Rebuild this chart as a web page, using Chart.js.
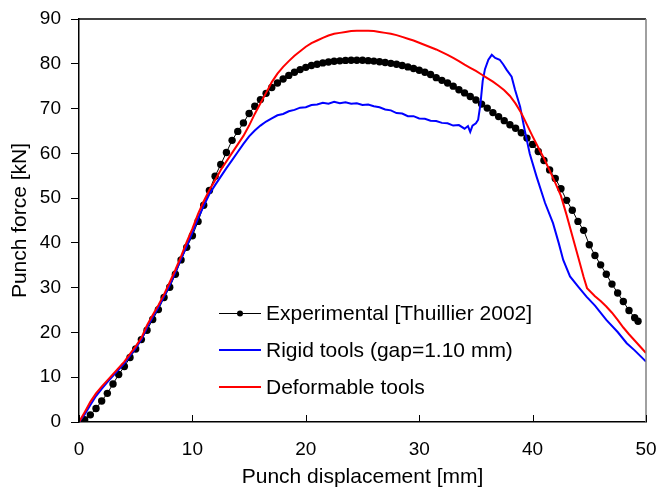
<!DOCTYPE html>
<html>
<head>
<meta charset="utf-8">
<title>Punch force</title>
<script src="https://cdn.jsdelivr.net/npm/chart.js@4.4.1/dist/chart.umd.min.js"></script>
<style>
  body { margin: 0; background: #fff; }
  #wrap { width: 659px; height: 490px; }
</style>
</head>
<body>
<div id="wrap"><canvas id="chart" width="659" height="490"></canvas></div>
<script>
// punch displacement [mm] / punch force [kN]
var expX = [0,0.5,1,1.5,2,2.5,3,3.5,4,4.5,5,5.5,6,6.5,7,7.5,8,8.5,9,9.5,
  10,10.5,11,11.5,12,12.5,13,13.5,14,14.5,15,15.5,16,16.5,17,17.5,18,18.5,19,19.5,
  20,20.5,21,21.5,22,22.5,23,23.5,24,24.5,25,25.5,26,26.5,27,27.5,28,28.5,29,29.5,
  30,30.5,31,31.5,32,32.5,33,33.5,34,34.5,35,35.5,36,36.5,37,37.5,38,38.5,39,39.5,
  40,40.5,41,41.5,42,42.5,43,43.5,44,44.5,45,45.5,46,46.5,47,47.5,48,48.5,49,49.3];
var expY = [0,0.5,1.6,3.0,4.7,6.4,8.5,10.6,12.4,14.4,16.3,18.4,20.5,22.9,25.1,27.8,30.1,33.0,36.2,39.0,
  41.6,44.8,48.4,51.7,54.9,57.5,60.2,62.9,64.9,66.8,68.9,70.5,72.0,73.4,74.7,75.7,76.6,77.4,78.1,78.7,
  79.2,79.6,79.9,80.2,80.4,80.55,80.65,80.75,80.8,80.8,80.8,80.7,80.6,80.45,80.3,80.1,79.9,79.6,79.3,78.95,
  78.55,78.1,77.6,76.9,76.3,75.7,75.0,74.2,73.5,72.7,71.9,71.0,70.1,69.1,68.2,67.3,66.4,65.6,64.6,63.4,
  62.0,60.4,58.4,56.3,54.4,52.1,49.5,47.3,44.8,42.8,39.6,37.2,35.1,33.0,30.8,28.8,26.9,24.9,23.3,22.5];

var rigidX = [0,0.5,1,1.5,2,2.5,3,3.5,4,4.5,5,5.5,6,6.5,7,7.5,8,8.5,9,9.5,
  10,10.5,11,11.5,12,12.5,13,13.5,14,14.5,15,15.5,16,16.5,17,17.5,18,18.5,19,19.5,
  20,20.5,21,21.5,22,22.5,23,23.5,24,24.5,25,25.5,26,26.5,27,27.5,28,28.5,29,29.5,
  30,30.5,31,31.5,32,32.5,33,33.5,34,34.3,34.5,34.7,35,35.2,35.4,35.6,35.8,36.1,36.4,36.7,
  37.1,37.4,37.7,38.15,38.45,38.9,39.3,39.75,40.35,41.1,41.8,42.3,42.7,43.3,44,44.75,45.5,46.5,47.5,48.3,49,50];
var rigidY = [0,1.7,3.8,5.8,7.4,8.9,10.3,11.7,13.1,14.8,16.5,18.4,21.1,23.4,25.6,28.0,30.6,33.4,36.4,39.3,
  42.3,45.5,48.3,50.9,52.9,54.8,56.7,58.5,60.3,62.1,63.8,65.1,66.2,67.1,67.8,68.5,68.8,69.4,69.7,70.2,
  70.3,70.8,70.9,71.3,71.1,71.5,71.2,71.4,71.1,71.2,70.8,70.9,70.5,70.3,69.8,69.6,69.0,68.9,68.3,68.3,
  67.8,67.7,67.3,67.2,66.8,66.7,66.2,66.3,65.5,66.1,64.8,66.2,66.7,67.5,71.0,76.2,78.8,80.9,82.0,81.3,
  80.9,79.9,78.7,77.1,74.2,70.4,65.2,59.9,54.8,48.9,44.4,40.0,36.2,32.5,30.3,28.0,26.0,22.8,20.1,17.6,16.0,13.5];

var deformX = [0,0.5,1,1.5,2,2.5,3,3.5,4,4.5,5,5.5,6,6.5,7,7.5,8,8.5,9,9.5,
  10,10.5,11,11.5,12,12.5,13,13.5,14,14.5,15,15.5,16,16.5,17,17.5,18,18.5,19,19.5,
  20,20.5,21,21.5,22,22.5,23,23.5,24,24.5,25,25.5,26,26.5,27,27.5,28,28.5,29,29.5,
  30,30.5,31,31.5,32,32.5,33,33.5,34,34.5,35,35.5,36,36.5,37,37.5,38,38.5,39,39.5,
  40,40.5,41,41.5,42,42.5,43,43.5,44,44.5,44.8,45.5,46,46.5,47,47.5,48,48.5,49,49.5,50];
var deformY = [0,2.2,4.5,6.4,7.9,9.3,10.7,12.1,13.5,15.2,16.9,18.8,21.6,23.9,26.1,28.5,31.2,34.0,37.0,40.2,
  43.2,46.5,49.3,51.8,54.0,56.3,58.2,60.1,62.0,63.9,66.2,68.8,71.2,73.5,75.9,77.8,79.3,80.6,81.8,82.8,
  83.8,84.6,85.2,85.8,86.3,86.7,86.9,87.1,87.3,87.4,87.4,87.4,87.3,87.1,86.9,86.7,86.4,86.0,85.6,85.2,
  84.7,84.2,83.7,83.2,82.6,82.0,81.3,80.6,79.8,79.1,78.4,77.6,76.8,76.0,75.1,74.1,72.8,71.1,69.0,66.4,
  63.8,61.3,58.9,56.2,53.4,50.5,46.2,41.6,37.0,32.4,29.9,28.1,27.0,25.8,24.4,22.8,21.1,19.6,18.2,16.8,15.4];

var seriesNames = ["Experimental [Thuillier 2002]", "Rigid tools (gap=1.10 mm)", "Deformable tools"];
var xTitle = "Punch displacement [mm]";
var yTitle = "Punch force [kN]";

function pairs(xs, ys) {
  return xs.map(function(v, i) { return {x: v, y: ys[i]}; });
}

var FONT = "'Liberation Sans', Arial, sans-serif";

// frame (top/right), inward x ticks and the legend inside the plot
var framePlugin = {
  id: 'frame',
  afterDraw: function(chart) {
    var ctx = chart.ctx, a = chart.chartArea, xs = chart.scales.x;
    ctx.save();
    ctx.lineWidth = 1.5;
    ctx.strokeStyle = '#000';
    ctx.beginPath(); ctx.moveTo(a.left, a.top); ctx.lineTo(a.right, a.top); ctx.stroke();
    ctx.strokeStyle = '#808080';
    ctx.beginPath(); ctx.moveTo(a.right, a.top); ctx.lineTo(a.right, a.bottom); ctx.stroke();

    ctx.strokeStyle = '#000';
    ctx.lineWidth = 1;
    xs.ticks.forEach(function(t) {
      var px = Math.round(xs.getPixelForValue(t.value)) + 0.5;
      ctx.beginPath(); ctx.moveTo(px, a.bottom); ctx.lineTo(px, a.bottom - 7); ctx.stroke();
    });

    // legend
    var cols = ['#000000', '#0000ff', '#ff0000'];
    var widths = [1, 2, 2];
    var x0 = Math.round(a.left) + 140, x1 = Math.round(a.left) + 182;
    ctx.font = '21px ' + FONT;
    ctx.textBaseline = 'middle';
    for (var i = 0; i < 3; i++) {
      var y = Math.round(a.top) + 294 + i * 37;
      ctx.strokeStyle = cols[i];
      ctx.lineWidth = widths[i];
      var ly = widths[i] === 1 ? y + 0.5 : y;
      ctx.beginPath(); ctx.moveTo(x0, ly); ctx.lineTo(x1, ly); ctx.stroke();
      if (i === 0) {
        ctx.fillStyle = '#000';
        ctx.beginPath(); ctx.arc((x0 + x1) / 2, ly, 3, 0, Math.PI * 2); ctx.fill();
      }
      ctx.fillStyle = '#000';
      ctx.fillText(seriesNames[i], x1 + 5, y + 1);
    }
    ctx.restore();
  }
};

var canvas = document.getElementById('chart').getContext('2d');
var chart = new Chart(canvas, {
  type: 'line',
  data: {
    datasets: [{
      label: seriesNames[0],
      data: pairs(expX, expY),
      borderColor: '#000',
      backgroundColor: '#000',
      borderWidth: 1,
      pointRadius: 3.7,
      pointBorderWidth: 0,
      pointBackgroundColor: '#000',
      tension: 0,
      order: 2
    }, {
      label: seriesNames[1],
      data: pairs(rigidX, rigidY),
      borderColor: '#0000ff',
      borderWidth: 2,
      pointRadius: 0,
      tension: 0,
      order: 1
    }, {
      label: seriesNames[2],
      data: pairs(deformX, deformY),
      borderColor: '#ff0000',
      borderWidth: 2,
      pointRadius: 0,
      tension: 0,
      order: 0
    }]
  },
  options: {
    responsive: false,
    animation: false,
    layout: { padding: { top: 19, right: 13, left: 0, bottom: 0 } },
    plugins: {
      legend: { display: false },
      tooltip: { enabled: false }
    },
    scales: {
      x: {
        type: 'linear',
        min: 0, max: 50,
        ticks: { stepSize: 10, color: '#000', padding: 16, font: { family: FONT, size: 19 } },
        grid: { drawOnChartArea: false, drawTicks: false },
        border: { display: true, color: '#000', width: 1.5 },
        title: { display: true, text: xTitle, color: '#000', padding: { top: 0, bottom: 0 }, font: { family: FONT, size: 21 } },
        afterFit: function(s) { s.height = 68; s.paddingLeft = 0; s.paddingRight = 0; }
      },
      y: {
        type: 'linear',
        min: 0, max: 90,
        ticks: { stepSize: 10, color: '#000', padding: 10, font: { family: FONT, size: 19 } },
        grid: { drawOnChartArea: false, drawTicks: true, tickLength: 8, color: '#000', lineWidth: 1 },
        border: { display: true, color: '#000', width: 1.5 },
        title: { display: true, text: yTitle, color: '#000', padding: { top: 8, bottom: 0 }, font: { family: FONT, size: 21 } },
        afterFit: function(s) { s.width = 79; s.paddingTop = 0; s.paddingBottom = 0; }
      }
    }
  },
  plugins: [framePlugin]
});
</script>
</body>
</html>
